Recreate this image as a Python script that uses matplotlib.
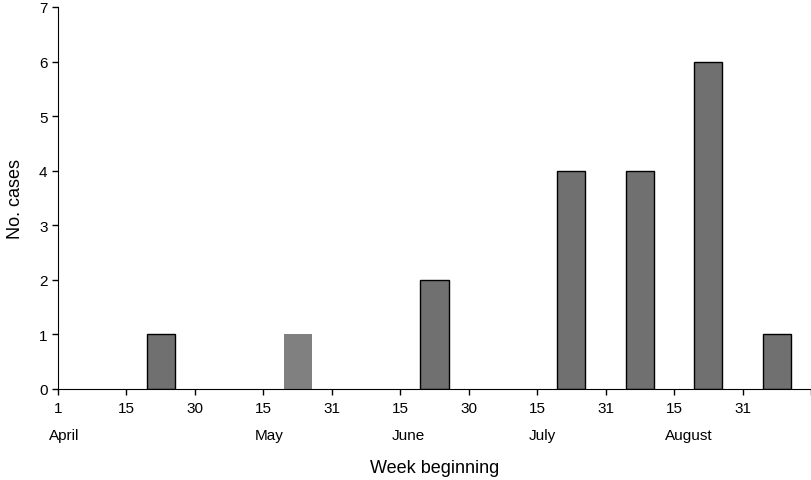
import numpy as np
import matplotlib
matplotlib.use('Agg')
import matplotlib.pyplot as plt
import matplotlib.transforms as transforms

plt.rcParams['font.family'] = ['Liberation Sans', 'DejaVu Sans']

# half-month slots, April 1 to early September
day_labels = ['1', '15', '30', '15', '31', '15', '30', '15', '31', '15', '31', '']
months = ['April', 'May', 'June', 'July', 'August']
month_pos = [0, 3, 5, 7, 9]
cases = np.array([0, 1, 0, 1, 0, 2, 0, 4, 4, 6, 1])
light_slot = 3  # the one bar drawn lighter, without outline

fig = plt.figure(figsize=(8.12, 4.81), dpi=100)
ax = fig.add_axes([0.0714, 0.1892, 0.9274, 0.7942])

x = np.arange(len(cases)) + 0.5
for i, (xi, v) in enumerate(zip(x, cases)):
    if v == 0:
        continue
    if i == light_slot:
        ax.bar(xi, v, width=0.41, color='#808080', edgecolor='none')
    else:
        ax.bar(xi, v, width=0.41, color='#707070', edgecolor='black', linewidth=1.0)

ax.set_xlim(0, 11)
ax.set_ylim(0, 7)
ax.set_yticks(range(8))
ax.set_xticks(range(12))
ax.set_xticklabels(day_labels)
ax.tick_params(axis='both', labelsize=11, length=4, width=1, direction='out')
ax.tick_params(axis='x', pad=5)
ax.spines['top'].set_visible(False)
ax.spines['right'].set_visible(False)

trans = transforms.blended_transform_factory(ax.transData, ax.transAxes)
for m, p in zip(months, month_pos):
    ax.text(p - 0.13, -0.12, m, transform=trans, ha='left', va='center', fontsize=11)

ax.set_xlabel('Week beginning', fontsize=13, labelpad=31)
ax.set_ylabel('No. cases', fontsize=13, labelpad=11)

plt.savefig('out.png', dpi=100)
